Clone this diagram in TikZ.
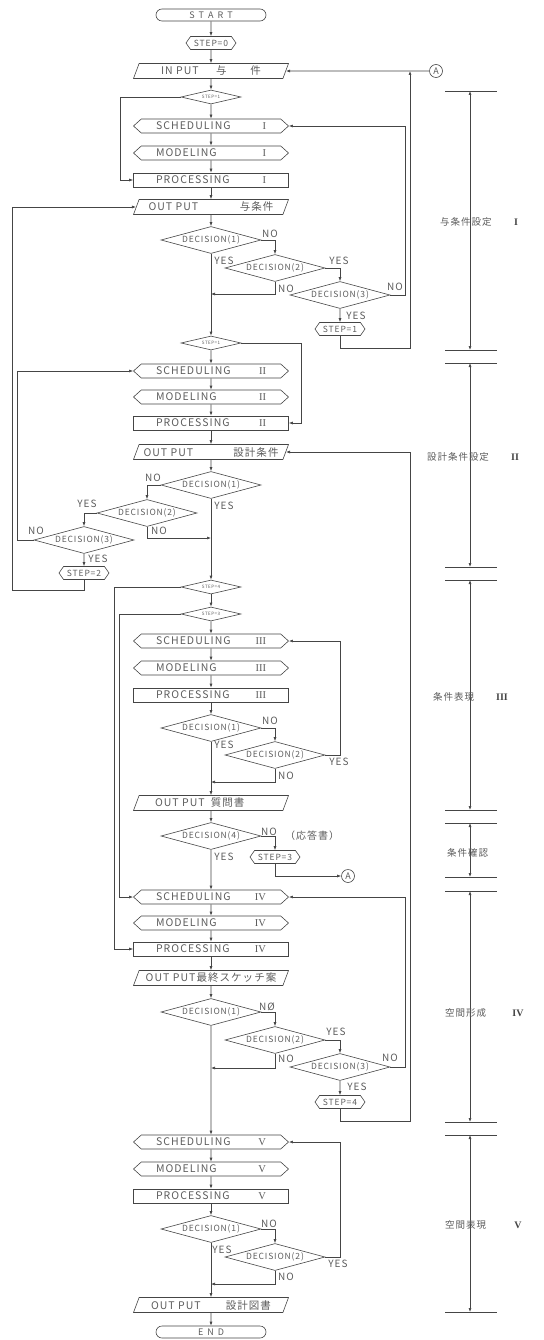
\documentclass[tikz,border=0pt]{standalone}
\usepackage{fontspec}
\setmainfont{Noto Sans CJK JP}[LetterSpace=10]
\newfontfamily\romfont{Liberation Serif}
\usepackage{tikz}
\usetikzlibrary{arrows.meta,calc,positioning,shapes.geometric,shapes.misc,shapes.symbols}
\definecolor{inkgray}{HTML}{454545}
\definecolor{textgray}{HTML}{5C5C5C}
\tikzset{
  flow/.style={-{Latex[length=4pt,width=3pt]},line width=0.6pt,inkgray},
  span/.style={{Latex[length=4pt,width=3pt]}-{Latex[length=4pt,width=3pt]},line width=0.6pt,inkgray},
  tickline/.style={line width=0.6pt,inkgray},
  base/.style={draw=inkgray,line width=0.6pt,text=textgray,inner sep=0pt},
  terminal/.style={base,rounded rectangle,minimum width=110pt,minimum height=12pt,font=\fontsize{9}{9}\selectfont},
  stepbox/.style={base,signal,signal to=west and east,signal pointer angle=110,minimum width=50pt,minimum height=13pt,font=\fontsize{8.5}{9}\selectfont},
  prepbox/.style={base,signal,signal to=west and east,signal pointer angle=84,minimum width=155pt,minimum height=14pt,font=\fontsize{10.5}{11}\selectfont},
  procbox/.style={base,rectangle,minimum width=155pt,minimum height=14pt,font=\fontsize{10.5}{11}\selectfont},
  iobox/.style={base,trapezium,trapezium left angle=60,trapezium right angle=120,trapezium stretches body,minimum width=155pt,minimum height=15pt,font=\fontsize{10.5}{11}\selectfont},
  decision/.style={base,diamond,aspect=3.7,minimum width=100pt,minimum height=27pt,font=\fontsize{8.5}{9}\selectfont},
  stepcheck/.style={base,diamond,aspect=4,minimum width=60pt,minimum height=14pt,font=\fontsize{4.5}{5}\selectfont},
  connector/.style={base,circle,minimum size=13pt,font=\fontsize{9}{9}\selectfont},
  yn/.style={text=textgray,inner sep=0pt,font=\fontsize{10}{10}\selectfont},
  sidetext/.style={text=textgray,inner sep=0pt,anchor=west,font=\fontsize{9.5}{10}\selectfont},
  sidenum/.style={text=inkgray,inner sep=0pt,font=\romfont\bfseries\fontsize{10}{10}\selectfont}
}
\newcommand{\stagetext}[2]{\makebox[110pt]{#1\hfill{\romfont #2}}}

\begin{document}
\begin{tikzpicture}[x=1pt,y=-1pt]
  \useasboundingbox (0,0) rectangle (543,1340);
  % stage I
  \node[terminal] (start) at (211,15) {S\hspace{4pt}T\hspace{4pt}A\hspace{4pt}R\hspace{4pt}T};
  \node[stepbox] (step0) at (211,43) {STEP=0};
  \node[iobox] (inp) at (211,71) {\makebox[100pt]{IN PUT\hfill 与\hspace{24pt}件}};
  \node[connector] (conAtop) at (436,71) {A};
  \coordinate (jA) at (410,71);
  \node[stepcheck] (sw1) at (211,97) {STEP=1};
  \node[prepbox] (sch1) at (211,126) {\stagetext{SCHEDULING}{I}};
  \node[prepbox] (mod1) at (211,153) {\stagetext{MODELING}{I}};
  \node[procbox] (proc1) at (211,180) {\stagetext{PROCESSING}{I}};
  \node[iobox] (out1) at (211,207) {\makebox[125pt]{OUT PUT\hfill 与条件}};
  \node[decision] (d11) at (211,240) {DECISION(1)};
  \node[decision] (d12) at (275,268) {DECISION(2)};
  \node[decision] (d13) at (340,295) {DECISION(3)};
  \node[stepbox] (st1) at (340,329) {STEP=1};
  \coordinate (j12) at (211,294);
  % stage II
  \node[stepcheck] (sw2) at (211,343) {STEP=1};
  \node[prepbox] (sch2) at (211,371) {\stagetext{SCHEDULING}{II}};
  \node[prepbox] (mod2) at (211,397) {\stagetext{MODELING}{II}};
  \node[procbox] (proc2) at (211,423) {\stagetext{PROCESSING}{II}};
  \node[iobox] (out2) at (211,452) {\makebox[135pt]{OUT PUT\hfill 設計条件}};
  \node[decision] (d21) at (211,485) {DECISION(1)};
  \node[decision] (d22) at (147,513) {DECISION(2)};
  \node[decision] (d23) at (84,540) {DECISION(3)};
  \node[stepbox] (st2) at (84,573) {STEP=2};
  \coordinate (j22) at (211,538);
  % stage III
  \node[stepcheck] (sw3) at (211,587) {STEP=4};
  \node[stepcheck] (sw4) at (211,614) {STEP=3};
  \node[prepbox] (sch3) at (211,641) {\stagetext{SCHEDULING}{III}};
  \node[prepbox] (mod3) at (211,668) {\stagetext{MODELING}{III}};
  \node[procbox] (proc3) at (211,695) {\stagetext{PROCESSING}{III}};
  \node[decision] (d31) at (211,728) {DECISION(1)};
  \node[decision] (d32) at (275,755) {DECISION(2)};
  \coordinate (j32) at (211,782);
  \node[iobox] (out3) at (211,803) {\makebox[112pt][l]{OUT PUT\hspace{6pt}質問書}};
  \node[decision] (d34) at (211,836) {DECISION(4)};
  \node[stepbox] (st3) at (275,857) {STEP=3};
  \node[connector] (conA) at (348,876) {A};
  % stage IV
  \node[prepbox] (sch4) at (211,897) {\stagetext{SCHEDULING}{IV}};
  \node[prepbox] (mod4) at (211,923) {\stagetext{MODELING}{IV}};
  \node[procbox] (proc4) at (211,949) {\stagetext{PROCESSING}{IV}};
  \node[iobox] (out4) at (211,978) {OUT PUT最終スケッチ案};
  \node[decision] (d41) at (211,1012) {DECISION(1)};
  \node[decision] (d42) at (275,1040) {DECISION(2)};
  \node[decision] (d43) at (340,1067) {DECISION(3)};
  \node[stepbox] (st4) at (340,1102) {STEP=4};
  \coordinate (j42) at (211,1068);
  % stage V
  \node[prepbox] (sch5) at (211,1142) {\stagetext{SCHEDULING}{V}};
  \node[prepbox] (mod5) at (211,1169) {\stagetext{MODELING}{V}};
  \node[procbox] (proc5) at (211,1196) {\stagetext{PROCESSING}{V}};
  \node[decision] (d51) at (211,1229) {DECISION(1)};
  \node[decision] (d52) at (275,1257) {DECISION(2)};
  \coordinate (j52) at (211,1284);
  \node[iobox] (out5) at (211,1305) {\makebox[120pt]{OUT PUT\hfill 設計図書}};
  \node[terminal] (fin) at (211,1332) {E\hspace{4pt}N\hspace{4pt}D};

  % main line
  \foreach \a/\b in {start/step0,step0/inp,inp/sw1,sw1/sch1,sch1/mod1,mod1/proc1,proc1/out1,out1/d11,
    d11/sw2,sw2/sch2,sch2/mod2,mod2/proc2,proc2/out2,out2/d21,d21/sw3,sw3/sw4,sw4/sch3,sch3/mod3,
    mod3/proc3,proc3/d31,d31/out3,out3/d34,d34/sch4,sch4/mod4,mod4/proc4,proc4/out4,out4/d41,
    d41/sch5,sch5/mod5,mod5/proc5,proc5/d51,d51/out5,out5/fin}
    \draw[flow] (\a) -- (\b);

  % branches, stage I
  \draw[flow] (conAtop) -- (inp);
  \draw[flow] (sw1.west) -- ++(-60,0) |- (proc1.west);
  \draw[flow] (d11.east) -| (d12.north);
  \draw[flow] (d12.east) -| (d13.north);
  \draw[flow] (d12.south) |- (j12);
  \draw[flow] (d13.east) -- ++(15,0) |- (sch1.east);
  \draw[flow] (d13) -- (st1);
  \draw[flow] (st1.south) |- (410,348) -- (jA);
  \node[yn] (n11) at (270,234) {NO};
  \node[yn] (y11) at (224,261) {YES};
  \node[yn] (y12) at (339,261) {YES};
  \node[yn] (n12) at (286,289) {NO};
  \node[yn] (n13) at (395,287) {NO};
  \node[yn] (y13) at (356,316) {YES};

  % branches, stage II
  \draw[flow] (sw2.east) -- ++(60,0) |- (proc2.east);
  \draw[flow] (d21.west) -| (d22.north);
  \draw[flow] (d22.west) -| (d23.north);
  \draw[flow] (d22.south) |- (j22);
  \draw[flow] (d23.west) -- ++(-16,0) |- (sch2.west);
  \draw[flow] (d23) -- (st2);
  \draw[flow] (st2.south) |- (12,590) |- (out1.west);
  \node[yn] (n21) at (153,478) {NO};
  \node[yn] (y21) at (224,506) {YES};
  \node[yn] (y22) at (87,504) {YES};
  \node[yn] (n22) at (159,531) {NO};
  \node[yn] (n23) at (36,531) {NO};
  \node[yn] (y23) at (98,559) {YES};

  % branches, stage III
  \draw[flow] (sw3.west) -- ++(-66,0) |- (proc4.west);
  \draw[flow] (sw4.west) -- ++(-61,0) |- (sch4.west);
  \draw[flow] (d31.east) -| (d32.north);
  \draw[flow] (d32.east) -- ++(15,0) |- (sch3.east);
  \draw[flow] (d32.south) |- (j32);
  \draw[flow] (d34.east) -| (st3.north);
  \draw[flow] (st3.south) |- (conA);
  \node[yn] (n31) at (270,721) {NO};
  \node[yn] (y31) at (224,745) {YES};
  \node[yn] (y32) at (339,762) {YES};
  \node[yn] (n32) at (286,776) {NO};
  \node[yn] (n34) at (269,832) {NO};
  \node[yn] (ans) at (312,836) {（応答書）};
  \node[yn] (y34) at (224,857) {YES};

  % branches, stage IV
  \draw[flow] (d41.east) -| (d42.north);
  \draw[flow] (d42.east) -| (d43.north);
  \draw[flow] (d42.south) |- (j42);
  \draw[flow] (d43.east) -- ++(15,0) |- (sch4.east);
  \draw[flow] (d43) -- (st4);
  \draw[flow] (st4.south) |- (410,1121) |- (out2.east);
  \node[yn] (n41) at (267,1007) {NØ};
  \node[yn] (y42) at (336,1032) {YES};
  \node[yn] (n42) at (286,1059) {NO};
  \node[yn] (n43) at (390,1058) {NO};
  \node[yn] (y43) at (357,1087) {YES};

  % branches, stage V
  \draw[flow] (d51.east) -| (d52.north);
  \draw[flow] (d52.east) -- ++(15,0) |- (sch5.east);
  \draw[flow] (d52.south) |- (j52);
  \node[yn] (n51) at (269,1224) {NO};
  \node[yn] (y51) at (222,1250) {YES};
  \node[yn] (y52) at (338,1264) {YES};
  \node[yn] (n52) at (286,1277) {NO};

  % stage scale
  \foreach \ya/\yb in {91/350,363/567,580/810,823/877,891/1122,1135/1312}{
    \draw[tickline] (445,\ya) -- (497,\ya);
    \draw[tickline] (445,\yb) -- (497,\yb);
    \draw[span] (470,\ya) -- (470,\yb);
  }
  \node[sidetext] (t1) at (440,222) {与条件設定};
  \node[sidenum] (r1) at (516,222) {I};
  \node[sidetext] (t2) at (427,457) {設計条件設定};
  \node[sidenum] (r2) at (515,457) {II};
  \node[sidetext] (t3) at (433,697) {条件表現};
  \node[sidenum] (r3) at (502,697) {III};
  \node[sidetext] (t4) at (447,853) {条件確認};
  \node[sidetext] (t5) at (445,1013) {空間形成};
  \node[sidenum] (r5) at (518,1013) {IV};
  \node[sidetext] (t6) at (445,1225) {空間表現};
  \node[sidenum] (r6) at (518,1225) {V};
\end{tikzpicture}
\end{document}
